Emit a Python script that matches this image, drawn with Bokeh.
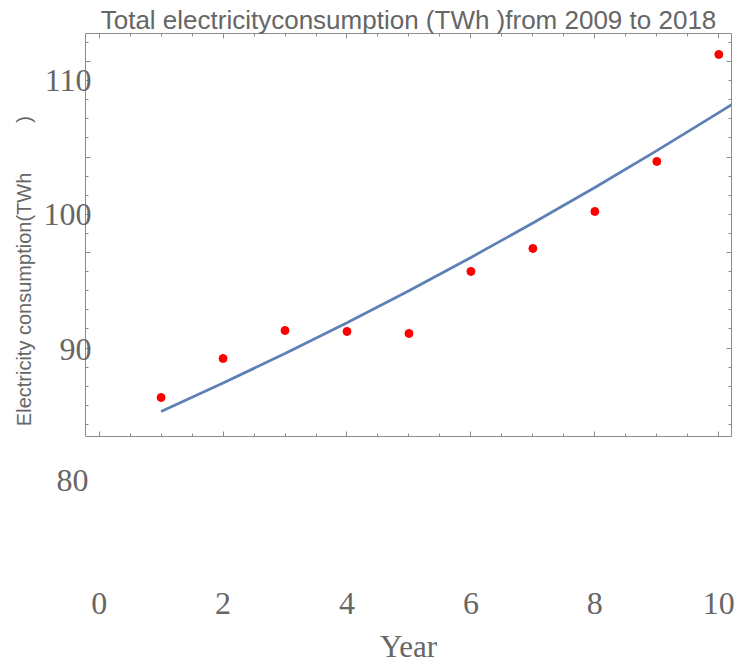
from bokeh.plotting import figure
from bokeh.models import Range1d, LinearAxis, SingleIntervalTicker, FixedTicker, Title
from bokeh.embed import file_html
from bokeh.resources import INLINE

# ---- data ----
years = [1, 2, 3, 4, 5, 6, 7, 8, 9, 10]
consumption = [86.43, 89.33, 91.41, 91.34, 91.19, 95.80, 97.51, 100.26, 103.98, 111.93]
fit_x = [1, 2, 3, 4, 5, 6, 7, 8, 9, 10, 10.25]
fit_y = [85.39, 87.50, 89.70, 91.99, 94.37, 96.84, 99.40, 102.04, 104.78, 107.61, 108.33]
x_ticks = [0, 2, 4, 6, 8, 10]
y_ticks = [80, 90, 100, 110]

title_text = "Total electricityconsumption (TWh )from 2009 to 2018"
x_label = "Year"
y_label = "Electricity consumption(TWh" + "\u00a0" * 9 + ")" + "\u00a0" * 13

x_start, x_end = -0.22, 10.205
y_start, y_end = 83.53, 113.49

GRAY_TXT = "#666666"
GRAY_LINE = "#8c8c8c"

p = figure(width=742, height=666, output_backend="svg", toolbar_location=None,
           x_range=Range1d(x_start, x_end), y_range=Range1d(y_start, y_end),
           x_axis_type=None, y_axis_type=None,
           min_border_left=85, min_border_right=11, min_border_top=33, min_border_bottom=230)
p.extra_y_ranges = {"frame": Range1d(70.74, 112.94)}
p.grid.visible = False
p.outline_line_color = GRAY_LINE
p.outline_line_width = 1
p.background_fill_color = "white"
p.border_fill_color = "white"

p.title.text = title_text
p.title.text_font = "Liberation Sans"
p.title.text_font_size = "26px"
p.title.text_font_style = "normal"
p.title.text_color = GRAY_TXT
p.title.align = "center"
p.title.standoff = -2


def tick_axis(ax):
    ax.axis_line_color = None
    ax.major_tick_in = 5
    ax.major_tick_out = 0
    ax.minor_tick_in = 3
    ax.minor_tick_out = 0
    ax.major_tick_line_color = GRAY_LINE
    ax.minor_tick_line_color = GRAY_LINE
    ax.major_label_text_font_size = "1px"
    ax.major_label_text_color = None
    ax.major_label_standoff = 0
    return ax


def label_axis(ax):
    ax.axis_line_color = None
    ax.major_tick_in = 0
    ax.major_tick_out = 0
    ax.minor_tick_in = 0
    ax.minor_tick_out = 0
    ax.major_tick_line_color = None
    ax.minor_tick_line_color = None
    ax.major_label_text_font = "Liberation Serif"
    ax.major_label_text_font_size = "32px"
    ax.major_label_text_color = GRAY_TXT
    return ax


# frame ticks
for loc in ("below", "above"):
    p.add_layout(tick_axis(LinearAxis(ticker=SingleIntervalTicker(interval=2, num_minor_ticks=4))), loc)
for loc in ("left", "right"):
    p.add_layout(tick_axis(LinearAxis(y_range_name="frame",
                                      ticker=SingleIntervalTicker(interval=10, num_minor_ticks=5))), loc)

# y tick labels that fall below the frame (drawn in the bottom panel)
for t in y_ticks:
    if t < y_start:
        p.add_layout(Title(text=str(t), align="left", offset=-29, standoff=63,
                           text_font="Liberation Serif", text_font_size="32px",
                           text_font_style="normal", text_color=GRAY_TXT), "below")

# labelled axes
xl = label_axis(LinearAxis(ticker=FixedTicker(ticks=x_ticks)))
xl.major_label_standoff = 70
xl.axis_label = x_label
xl.axis_label_text_font = "Liberation Serif"
xl.axis_label_text_font_size = "31px"
xl.axis_label_text_font_style = "normal"
xl.axis_label_text_color = GRAY_TXT
xl.axis_label_standoff = 12
p.add_layout(xl, "below")

yl = label_axis(LinearAxis(ticker=FixedTicker(ticks=y_ticks)))
yl.major_label_standoff = -6
yl.axis_label = y_label
yl.axis_label_text_font = "Liberation Sans"
yl.axis_label_text_font_size = "20px"
yl.axis_label_text_font_style = "normal"
yl.axis_label_text_color = GRAY_TXT
yl.axis_label_standoff = 6
p.add_layout(yl, "left")

# data
p.line(fit_x, fit_y, line_color="#5E81B5", line_width=2.75)
p.scatter(years, consumption, size=8, fill_color="#ff0000", line_color="#ff0000")

open("out.html", "w").write(file_html(p, INLINE))
